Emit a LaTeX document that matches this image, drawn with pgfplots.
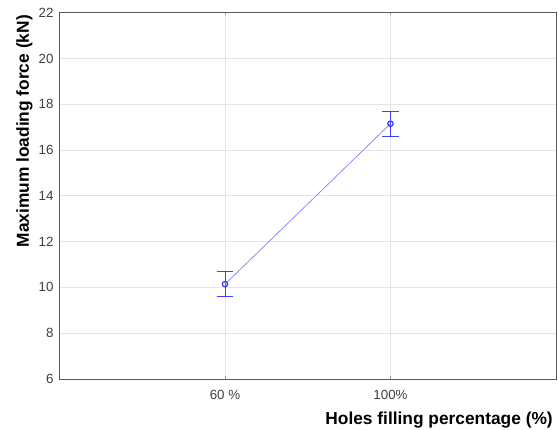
\documentclass[border=0pt]{standalone}
\usepackage{pgfplots}
\pgfplotsset{compat=1.18}
\usepackage{fontspec}
\setmainfont{Liberation Sans}
\usetikzlibrary{calc}
\definecolor{mk}{RGB}{64,64,255}
\definecolor{ln}{RGB}{140,140,255}
\definecolor{tk}{RGB}{64,64,64}
\begin{document}
\begin{tikzpicture}[x=0.75pt,y=0.75pt]
\begin{axis}[name=ax,
  scale only axis,
  width=372.4pt, height=274.7pt,
  xmin=0, xmax=3, ymin=6, ymax=22,
  xtick={1,2}, xticklabels={60 \%,100\%},
  ytick={6,8,...,22},
  grid=major,
  major grid style={draw=black!10, line width=0.5pt},
  axis line style={draw=black!65, line width=0.6pt},
  tick style={draw=black!40, line width=0.4pt},
  tick align=inside,
  major tick length=2pt,
  ytick style={draw=none},
  /pgf/number format/assume math mode=true,
  tick label style={font=\fontsize{10}{12}\selectfont, text=tk},
  yticklabel style={xshift=-1pt},
  xticklabel style={yshift=-5pt},
  xlabel={\textbf{Holes filling percentage (\%)}},
  ylabel={\textbf{Maximum loading force (kN)}},
  label style={font=\fontsize{13}{15}\selectfont, inner sep=0pt},
  xlabel style={at={(rel axis cs:1,0)}, anchor=base east, yshift=-34.5pt, xshift=-2.25pt},
  ylabel style={at={(rel axis cs:0,1)}, anchor=base east, yshift=22.9pt, xshift=-1.7pt},
  unbounded coords=jump,
]
% error bars (mean +- 0.55) with caps
\addplot[draw=mk, line width=0.7pt, mark=none, forget plot]
  coordinates {
    (1,9.59) (1,10.69) (nan,nan)
    (0.95,10.69) (1.05,10.69) (nan,nan)
    (0.95,9.59) (1.05,9.59) (nan,nan)
    (2,16.60) (2,17.70) (nan,nan)
    (1.95,17.70) (2.05,17.70) (nan,nan)
    (1.95,16.60) (2.05,16.60)
  };
\addplot[draw=ln, line width=0.6pt, mark=o, mark size=2pt,
  mark options={draw=mk, fill=none, line width=1pt}]
  coordinates {
    (1,10.14)
    (2,17.15)
  };
\end{axis}
\pgfresetboundingbox
\path ($(ax.south west)+(-44.6pt,-38.25pt)$) rectangle ($(ax.north east)+(1.5pt,9.5pt)$);
\end{tikzpicture}
\end{document}
